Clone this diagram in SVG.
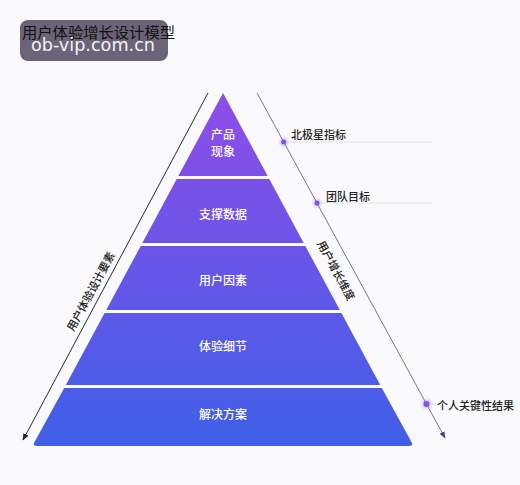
<svg xmlns="http://www.w3.org/2000/svg" width="520" height="485" viewBox="0 0 520 485">
<defs>
<linearGradient id="pg" gradientUnits="userSpaceOnUse" x1="0" y1="93" x2="0" y2="446">
<stop offset="0" stop-color="#8e4de9"/>
<stop offset="1" stop-color="#3f5fe7"/>
</linearGradient>
<marker id="ahL" viewBox="0 0 10 10" refX="9" refY="5" markerWidth="7" markerHeight="7" orient="auto" markerUnits="userSpaceOnUse"><path d="M0,1 L10,5 L0,9 Z" fill="#222"/></marker>
<marker id="ahR" viewBox="0 0 10 10" refX="9" refY="5" markerWidth="7" markerHeight="7" orient="auto" markerUnits="userSpaceOnUse"><path d="M0,1 L10,5 L0,9 Z" fill="#4a3f8a"/></marker>
<radialGradient id="halo"><stop offset="0" stop-color="#8a5cf0" stop-opacity="0.5"/><stop offset="1" stop-color="#8a5cf0" stop-opacity="0"/></radialGradient>
</defs>
<style>
.tl{font-family:"Noto Sans CJK SC","Noto Sans",sans-serif;font-size:12px;font-weight:500;fill:#ffffff;text-anchor:middle;dominant-baseline:central}
.lb{font-family:"Noto Sans CJK SC","Noto Sans",sans-serif;font-size:11px;font-weight:500;fill:#222;dominant-baseline:central}
.tier{fill:url(#pg)}
.hl{stroke:#e2e2e8;stroke-width:1;fill:none}
.dot{fill:#7d55e8}
</style>
<rect width="520" height="485" fill="#fafafc"/>
<g id="title">
<rect x="20" y="20" width="148" height="41" rx="8" fill="#6b6478"/>
<text x="22" y="31" font-family="Noto Sans CJK SC,sans-serif" font-size="15" fill="#111" dominant-baseline="central" textLength="153" lengthAdjust="spacingAndGlyphs">用户体验增长设计模型</text>
<text x="31" y="51" font-family="DejaVu Sans,sans-serif" font-size="18" fill="#f4f2f8" textLength="124" lengthAdjust="spacingAndGlyphs">ob-vip.com.cn</text>
</g>
<g id="tier1"><path class="tier" d="M223,93 L267.7,176 L178.3,176 Z"/><text class="tl" x="223" y="133">产品</text><text class="tl" x="223" y="150">现象</text></g>
<g id="tier2"><path class="tier" d="M176.7,179 L269.3,179 L303.7,243 L142.3,243 Z"/><text class="tl" x="223" y="213">支撑数据</text></g>
<g id="tier3"><path class="tier" d="M140.7,246 L305.3,246 L339.8,310 L106.2,310 Z"/><text class="tl" x="223" y="279">用户因素</text></g>
<g id="tier4"><path class="tier" d="M104.6,313 L341.4,313 L380.2,385 L65.8,385 Z"/><text class="tl" x="223" y="345">体验细节</text></g>
<g id="tier5"><path class="tier" d="M64.2,388 L381.8,388 L412,443 Q413,446 409,446 L37,446 Q33,446 34,443 Z"/><text class="tl" x="223" y="413">解决方案</text></g>
<g id="connectors">
<line x1="208" y1="93" x2="23" y2="440" stroke="#2a2a2a" stroke-width="1" marker-end="url(#ahL)"/>
<line x1="257" y1="93" x2="445" y2="438" stroke="#7a70a6" stroke-width="1" marker-end="url(#ahR)"/>
<line class="hl" x1="288" y1="142" x2="432" y2="142"/>
<line class="hl" x1="322" y1="203" x2="432" y2="203"/>
</g>
<g id="left-axis"><text class="lb" transform="translate(90,291) rotate(-61.7)" text-anchor="middle">用户体验设计要素</text></g>
<g id="right-axis"><text class="lb" transform="translate(337,270) rotate(61.5)" text-anchor="middle">用户增长维度</text></g>
<g id="m1"><circle cx="283.7" cy="142" r="6" fill="url(#halo)"/><circle class="dot" cx="283.7" cy="142" r="2.5"/><text class="lb" x="291" y="134">北极星指标</text></g>
<g id="m2"><circle cx="317" cy="203" r="6" fill="url(#halo)"/><circle class="dot" cx="317" cy="203" r="2.5"/><text class="lb" x="326" y="196">团队目标</text></g>
<g id="m3"><circle cx="426.5" cy="404" r="7" fill="url(#halo)"/><circle class="dot" cx="426.5" cy="404" r="3"/><text class="lb" x="437" y="405">个人关键性结果</text></g>
</svg>
